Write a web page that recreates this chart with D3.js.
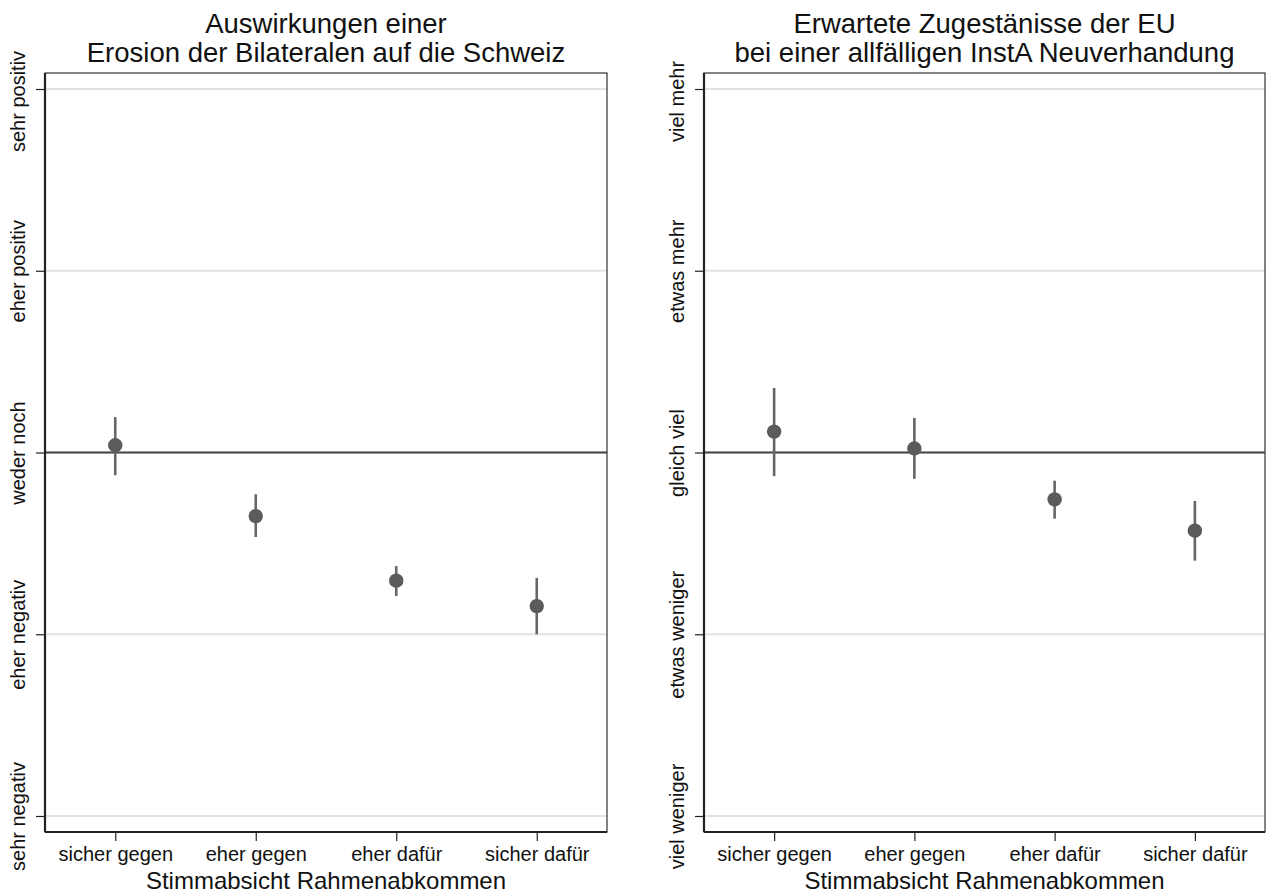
<!DOCTYPE html>
<html>
<head>
<meta charset="utf-8">
<script src="https://cdn.jsdelivr.net/npm/d3@7"></script>
<style>
  body { margin: 0; background: #fff; }
  text { font-family: "Liberation Sans", Arial, sans-serif; fill: #111; }
</style>
</head>
<body>
<svg width="1266" height="895"></svg>
<script>
const categories = ["sicher gegen", "eher gegen", "eher dafür", "sicher dafür"];

const leftTitle = ["Auswirkungen einer", "Erosion der Bilateralen auf die Schweiz"];
const leftTicks = ["sehr negativ", "eher negativ", "weder noch", "eher positiv", "sehr positiv"];
const leftMean = [3.04, 2.65, 2.295, 2.155];
const leftLow = [2.875, 2.535, 2.21, 2.0];
const leftHigh = [3.195, 2.77, 2.375, 2.31];

const rightTitle = ["Erwartete Zugestänisse der EU", "bei einer allfälligen InstA Neuverhandung"];
const rightTicks = ["viel weniger", "etwas weniger", "gleich viel", "etwas mehr", "viel mehr"];
const rightMean = [3.115, 3.022, 2.742, 2.57];
const rightLow = [2.87, 2.855, 2.636, 2.405];
const rightHigh = [3.355, 3.19, 2.845, 2.733];

const xTitle = "Stimmabsicht Rahmenabkommen";

const svg = d3.select("svg");
const plotTop = 73, plotBottom = 832;

function panel(x0, x1, title, ticks, mean, low, high) {
  const g = svg.append("g");

  const xScale = d3.scaleLinear().domain([0.5, 4.5]).range([x0, x1]);
  const yScale = d3.scaleLinear().domain([1, 5]).range([816, 89]);

  // gridlines
  g.selectAll(".grid")
    .data(d3.range(1, 6))
    .enter()
    .append("line")
    .attr("x1", x0).attr("x2", x1)
    .attr("y1", (d) => yScale(d)).attr("y2", (d) => yScale(d))
    .attr("stroke", "#e2e2e2")
    .attr("stroke-width", 2);

  // frame
  g.append("rect")
    .attr("x", x0).attr("y", plotTop)
    .attr("width", x1 - x0).attr("height", plotBottom - plotTop)
    .attr("fill", "none")
    .attr("stroke", "#333")
    .attr("stroke-width", 1.2);

  // reference line at middle category
  g.append("line")
    .attr("x1", x0).attr("x2", x1)
    .attr("y1", yScale(3)).attr("y2", yScale(3))
    .attr("stroke", "#444")
    .attr("stroke-width", 2);

  const yAxis = d3.axisLeft(yScale)
    .tickValues([1, 2, 3, 4, 5])
    .tickFormat((d, i) => ticks[i])
    .tickSize(9)
    .tickPadding(0);

  const ya = g.append("g").attr("transform", `translate(${x0},0)`).call(yAxis);
  ya.select(".domain").attr("d", `M0,${plotTop}V${plotBottom}`).attr("stroke", "#222").attr("stroke-width", 2.2);
  ya.selectAll(".tick line").attr("stroke", "#222").attr("stroke-width", 1.2);
  ya.selectAll(".tick text")
    .attr("transform", "rotate(-90)")
    .attr("x", (d) => (d === 5 ? -12 : 0)) // top label sits a bit lower, as in the original
    .attr("y", -20)
    .attr("dy", 0)
    .attr("text-anchor", "middle")
    .style("font-size", "20px")
    .style("font-family", "Liberation Sans, Arial, sans-serif")
    .attr("fill", "#111");

  const xAxis = d3.axisBottom(xScale)
    .tickValues([1, 2, 3, 4])
    .tickFormat((d, i) => categories[i])
    .tickSize(9)
    .tickPadding(6);

  const xa = g.append("g").attr("transform", `translate(0,${plotBottom})`).call(xAxis);
  xa.select(".domain").attr("d", `M${x0},0H${x1}`).attr("stroke", "#222").attr("stroke-width", 2.2);
  xa.selectAll(".tick line").attr("stroke", "#222").attr("stroke-width", 1.2);
  xa.selectAll(".tick text")
    .style("font-size", "20px")
    .style("font-family", "Liberation Sans, Arial, sans-serif")
    .attr("fill", "#111");

  // confidence intervals
  g.selectAll(".ci")
    .data(mean)
    .enter()
    .append("line")
    .attr("x1", (d, i) => xScale(i + 1)).attr("x2", (d, i) => xScale(i + 1))
    .attr("y1", (d, i) => yScale(low[i])).attr("y2", (d, i) => yScale(high[i]))
    .attr("stroke", "#666")
    .attr("stroke-width", 2.6);

  g.selectAll(".dot")
    .data(mean)
    .enter()
    .append("circle")
    .attr("cx", (d, i) => xScale(i + 1))
    .attr("cy", (d) => yScale(d))
    .attr("r", 7.2)
    .attr("fill", "#5b5b5b");

  // title
  const cx = (x0 + x1) / 2;
  g.selectAll(".title")
    .data(title)
    .enter()
    .append("text")
    .attr("x", cx)
    .attr("y", (d, i) => 33 + i * 29)
    .attr("text-anchor", "middle")
    .style("font-size", "27.5px")
    .text((d) => d);

  g.append("text")
    .attr("x", cx)
    .attr("y", 889)
    .attr("text-anchor", "middle")
    .style("font-size", "24px")
    .text(xTitle);
}

panel(45, 607, leftTitle, leftTicks, leftMean, leftLow, leftHigh);
panel(704, 1265, rightTitle, rightTicks, rightMean, rightLow, rightHigh);
</script>
</body>
</html>
